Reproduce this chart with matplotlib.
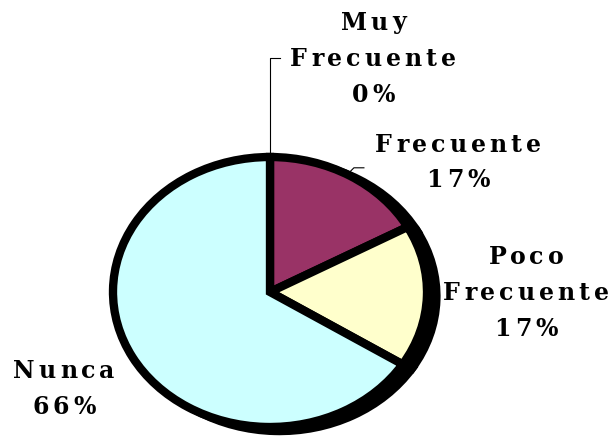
import numpy as np
import matplotlib.pyplot as plt
from matplotlib.font_manager import FontProperties

# Chart data
categories = ["Muy\nFrecuente", "Frecuente", "Poco\nFrecuente", "Nunca"]
percentages = [0, 17, 17, 66]
colors = ["#000080", "#993366", "#FFFFCC", "#CCFFFF"]

W, H = 616, 438
fig = plt.figure(figsize=(W / 100, H / 100), dpi=100)

# Pie centre and radii in pixels (pie is drawn as an ellipse)
cx, cy = 270, 438 - 292
rx, ry = 157, 135
ax = fig.add_axes([(cx - rx) / W, (cy - ry) / H, 2 * rx / W, 2 * ry / H])

# Shadow: a black copy of the pie shifted right and down
ax.pie(percentages, startangle=90, counterclock=False, center=(0.06, -0.03),
       colors=["black"] * len(percentages),
       wedgeprops=dict(edgecolor="black", linewidth=6))
wedges, _ = ax.pie(percentages, startangle=90, counterclock=False, colors=colors,
                   wedgeprops=dict(edgecolor="black", linewidth=6))
ax.set_aspect("auto")
ax.set_xlim(-1, 1)
ax.set_ylim(-1, 1)
ax.axis("off")

prop = FontProperties(family="DejaVu Serif", weight="bold", size=17)
renderer = fig.canvas.get_renderer()
tracking = 4  # extra pixels between letters, like the original labels
line_gap = 36


def spaced_line(xc, yc, s):
    """Draw one line of letter-spaced text centred at pixel (xc, yc) from top"""
    full = renderer.get_text_width_height_descent(s, prop, ismath=False)[0]
    total = full + tracking * (len(s) - 1)
    x = xc - total / 2
    for i, ch in enumerate(s):
        off = renderer.get_text_width_height_descent(s[:i], prop, ismath=False)[0] if i else 0
        fig.text((x + off + tracking * i) / W, 1 - yc / H, ch, fontproperties=prop,
                 ha="left", va="center_baseline", color="black")


# Label centres (pixels from top-left)
label_pos = [(373, 58), (458, 162), (526, 292), (64, 388)]
for name, pct, (lx, ly) in zip(categories, percentages, label_pos):
    lines = f"{name}\n{pct}%".split("\n")
    top = ly - line_gap * (len(lines) - 1) / 2
    for k, line in enumerate(lines):
        spaced_line(lx, top + k * line_gap - 2, line)


# Leader lines from the wedge rims to the labels
def rim(w):
    ang = np.deg2rad((w.theta1 + w.theta2) / 2)
    x = cx + rx * np.cos(ang)
    y = 438 - (cy + ry * np.sin(ang))
    return x, y


x0, y0 = rim(wedges[0])
fig.add_artist(plt.Line2D([x0 / W, x0 / W, (x0 + 10) / W],
                          [1 - y0 / H, 1 - 58 / H, 1 - 58 / H],
                          color="black", linewidth=0.8))
x1, y1 = rim(wedges[1])
fig.add_artist(plt.Line2D([(x1 - 2) / W, (x1 + 4) / W, (x1 + 14) / W],
                          [1 - (y1 - 2) / H, 1 - (y1 - 8) / H, 1 - (y1 - 8) / H],
                          color="black", linewidth=0.8))

fig.savefig("out.png", dpi=100)
